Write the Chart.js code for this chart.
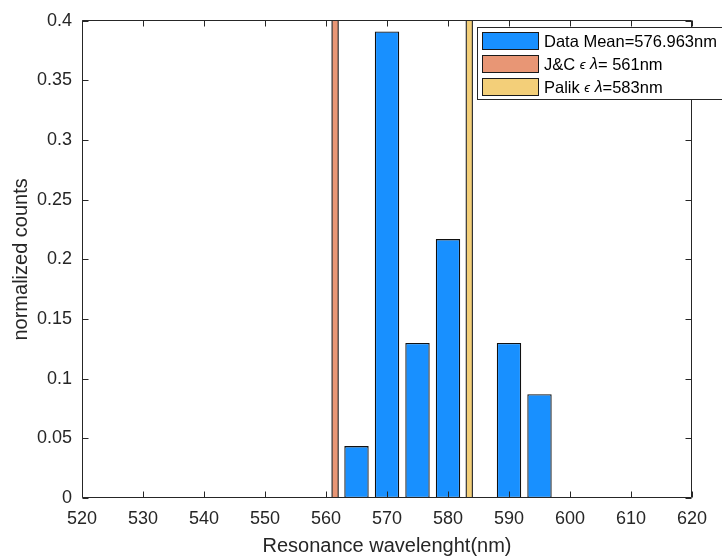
<!DOCTYPE html>
<html>
<head>
<meta charset="utf-8">
<script src="https://cdn.jsdelivr.net/npm/chart.js@4.4.1/dist/chart.umd.min.js"></script>
<style>
  html, body { margin: 0; padding: 0; background: #ffffff; }
  #wrap { width: 722px; height: 558px; }
</style>
</head>
<body>
<div id="wrap"><canvas id="c" width="722" height="558"></canvas></div>
<script>
// Histogram bins (centre wavelength, nm) and normalized counts
const binCenters = [565, 570, 575, 580, 590, 595];
const normCounts = [0.0435, 0.391, 0.130, 0.217, 0.130, 0.087];
const meanLabel = 'Data Mean=576.963nm';

// Reference resonance wavelengths, each shown as a 1 nm wide bin
const refBinWidth = 1;
const jcLambda = 561;
const palikLambda = 583;
const refHeight = 1;
const jcLabel = 'J&C ϵ λ= 561nm';
const palikLabel = 'Palik ϵ λ=583nm';

// Axis ranges and tick steps
const xRange = [520, 620];
const xStep = 10;
const yRange = [0, 0.4];
const yStep = 0.05;
const xTitle = 'Resonance wavelenght(nm)';
const yTitle = 'normalized counts';

const FONT = "'Liberation Sans', Arial, Helvetica, sans-serif";
const INK = '#262626';

// Outline of a single histogram bin [lo, lo + width] with the given height
function binOutline(lo, width, height) {
  return [
    { x: lo, y: 0 },
    { x: lo, y: height },
    { x: lo + width, y: height },
    { x: lo + width, y: 0 }
  ];
}

// Box around the plot with inward ticks on all four sides
const framePlugin = {
  id: 'frame',
  afterDatasetsDraw(chart) {
    const { ctx, chartArea: a } = chart;
    const x = chart.scales.x, y = chart.scales.y;
    const L = Math.floor(a.left) + 0.5, R = Math.floor(a.right) - 0.5;
    const T = Math.floor(a.top) + 0.5, B = Math.floor(a.bottom) - 0.5;
    const tl = 6;
    ctx.save();
    ctx.strokeStyle = INK;
    ctx.lineWidth = 1;
    ctx.beginPath();
    ctx.rect(L, T, R - L, B - T);
    x.ticks.forEach((t, i) => {
      const px = Math.round(x.getPixelForTick(i)) + 0.5;
      ctx.moveTo(px, B); ctx.lineTo(px, B - tl);
      ctx.moveTo(px, T); ctx.lineTo(px, T + tl);
    });
    y.ticks.forEach((t, i) => {
      const py = Math.round(y.getPixelForTick(i)) + 0.5;
      ctx.moveTo(L, py); ctx.lineTo(L + tl, py);
      ctx.moveTo(R, py); ctx.lineTo(R - tl, py);
    });
    ctx.stroke();
    ctx.restore();
  }
};

// Boxed legend in the upper right, Greek letters in italics
const legendPlugin = {
  id: 'boxLegend',
  afterDraw(chart) {
    const ctx = chart.ctx;
    const bx = 477.5, by = 27.5, bw = 260, bh = 72;
    ctx.save();
    ctx.fillStyle = '#ffffff';
    ctx.fillRect(bx, by, bw, bh);
    ctx.strokeStyle = INK;
    ctx.lineWidth = 1;
    ctx.strokeRect(bx, by, bw, bh);
    chart.data.datasets.forEach((ds, i) => {
      const py = Math.round(32 + i * 22.8) + 0.5;
      ctx.fillStyle = ds.backgroundColor;
      ctx.fillRect(482.5, py, 56, 17);
      ctx.strokeStyle = '#1a1a1a';
      ctx.strokeRect(482.5, py, 56, 17);
      let tx = 544;
      const ty = py + 9.5;
      ctx.fillStyle = '#000000';
      ctx.textBaseline = 'middle';
      ctx.textAlign = 'left';
      for (const ch of ds.label) {
        if (ch === 'ϵ') {
          ctx.font = 'italic 13px ' + FONT;
        } else if (ch === 'λ') {
          ctx.font = 'italic 16px ' + FONT;
        } else {
          ctx.font = '16.5px ' + FONT;
        }
        ctx.fillText(ch, tx, ty);
        tx += ctx.measureText(ch).width;
      }
    });
    ctx.restore();
  }
};

const refStyle = {
  type: 'line',
  fill: 'origin',
  borderColor: '#333333',
  borderWidth: 1.2,
  pointRadius: 0,
  tension: 0,
  clip: 0
};

const ctx = document.getElementById('c').getContext('2d');
new Chart(ctx, {
  type: 'bar',
  data: {
    datasets: [
      {
        label: meanLabel,
        data: binCenters.map((c, i) => ({ x: c, y: normCounts[i] })),
        backgroundColor: 'rgb(24,144,255)',
        borderColor: '#111111',
        borderWidth: 1.3,
        borderSkipped: false,
        categoryPercentage: 1,
        barPercentage: 0.8,
        clip: 0
      },
      Object.assign({
        label: jcLabel,
        data: binOutline(jcLambda, refBinWidth, refHeight),
        backgroundColor: 'rgb(232,150,117)'
      }, refStyle),
      Object.assign({
        label: palikLabel,
        data: binOutline(palikLambda, refBinWidth, refHeight),
        backgroundColor: 'rgb(243,207,121)'
      }, refStyle)
    ]
  },
  options: {
    responsive: false,
    animation: false,
    events: [],
    devicePixelRatio: 1,
    layout: { padding: { top: 17, right: 30, left: 0, bottom: 0 } },
    plugins: {
      legend: { display: false },
      tooltip: { enabled: false }
    },
    scales: {
      x: {
        type: 'linear',
        position: 'bottom',
        min: xRange[0],
        max: xRange[1],
        offset: false,
        grid: { display: false, drawTicks: false, offset: false },
        border: { display: false },
        ticks: {
          stepSize: xStep,
          autoSkip: false,
          maxRotation: 0,
          padding: 10,
          color: INK,
          font: { family: FONT, size: 18 }
        },
        title: {
          display: true,
          text: xTitle,
          color: INK,
          font: { family: FONT, size: 20 },
          padding: { top: 0, bottom: 0 }
        },
        afterFit(s) { s.height = 60; }
      },
      y: {
        type: 'linear',
        position: 'left',
        min: yRange[0],
        max: yRange[1],
        grid: { display: false, drawTicks: false },
        border: { display: false },
        ticks: {
          stepSize: yStep,
          padding: 10,
          color: INK,
          font: { family: FONT, size: 18 },
          callback: (v) => String(+Number(v).toFixed(2))
        },
        title: {
          display: true,
          text: yTitle,
          color: INK,
          font: { family: FONT, size: 20 },
          padding: { top: 9, bottom: 0 }
        },
        afterFit(s) { s.width = 82; }
      }
    }
  },
  plugins: [framePlugin, legendPlugin]
});
</script>
</body>
</html>
